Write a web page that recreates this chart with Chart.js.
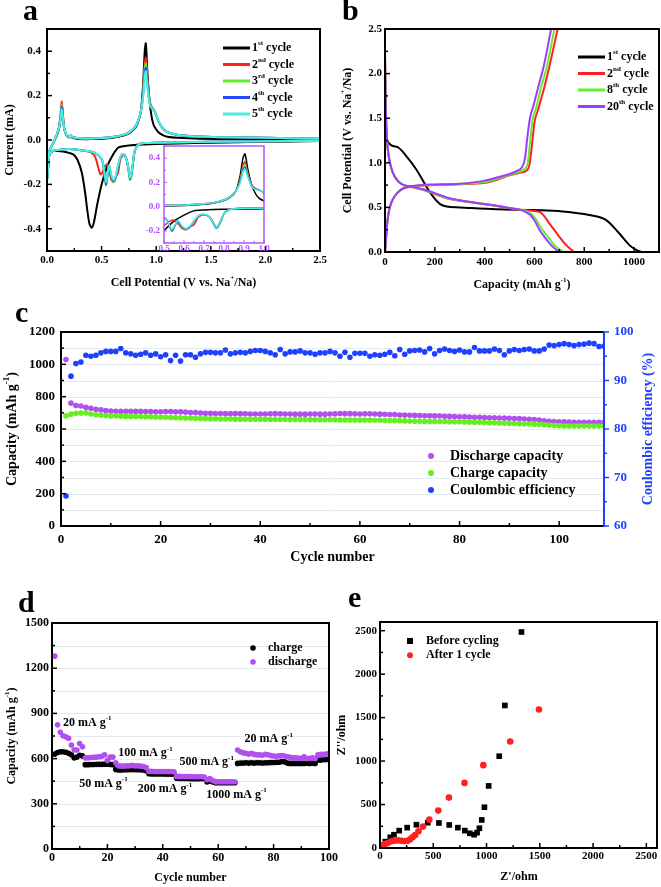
<!DOCTYPE html>
<html>
<head>
<meta charset="utf-8">
<title>Electrochemical performance</title>
<script src="https://cdn.jsdelivr.net/npm/chart.js@4.4.1/dist/chart.umd.min.js"></script>
<style>
  html, body { margin: 0; padding: 0; background: #fff; overflow: hidden; }
  body { position: relative; width: 661px; height: 887px; }
  canvas { position: absolute; }
</style>
</head>
<body>
<canvas id="chartA" width="335" height="292" style="left:0;top:0"></canvas>
<canvas id="chartInset" width="135" height="122" style="left:140px;top:136px"></canvas>
<canvas id="chartB" width="350" height="292" style="left:330px;top:0"></canvas>
<canvas id="chartC" width="661" height="270" style="left:0;top:300px"></canvas>
<canvas id="chartD" width="345" height="302" style="left:0;top:585px"></canvas>
<canvas id="chartE" width="331" height="302" style="left:330px;top:585px"></canvas>
<script>
// ---------- a: cyclic voltammetry (5 cycles) ----------
const cvLabels = ['1^{st} cycle', '2^{nd} cycle', '3^{rd} cycle', '4^{th} cycle', '5^{th} cycle'];
const cvColors = ['#000000', '#ff1f1f', '#62ee2c', '#2348ff', '#46f0dc'];
const cvCathV1 = [2.5, 2.0, 1.5, 1.2, 1.0, 0.9, 0.8, 0.7, 0.65, 0.6, 0.55, 0.5, 0.46, 0.43, 0.41, 0.39, 0.37, 0.35, 0.32, 0.28, 0.24, 0.18, 0.1, 0.05, 0.02, 0.005];
const cvCathI1 = [-0.005, -0.008, -0.012, -0.016, -0.018, -0.02, -0.022, -0.028, -0.035, -0.07, -0.12, -0.2, -0.29, -0.37, -0.395, -0.38, -0.32, -0.24, -0.15, -0.09, -0.065, -0.055, -0.05, -0.05, -0.07, -0.17];
const cvCathV2 = [2.5, 2.0, 1.5, 1.2, 1.0, 0.9, 0.85, 0.82, 0.8, 0.785, 0.77, 0.76, 0.75, 0.73, 0.71, 0.69, 0.67, 0.65, 0.63, 0.61, 0.59, 0.57, 0.55, 0.53, 0.51, 0.49, 0.47, 0.44, 0.4, 0.3, 0.2, 0.1, 0.05, 0.02, 0.005];
const cvCathI2 = [-0.004, -0.006, -0.008, -0.01, -0.012, -0.014, -0.018, -0.03, -0.055, -0.11, -0.16, -0.17, -0.14, -0.09, -0.07, -0.07, -0.09, -0.15, -0.165, -0.19, -0.18, -0.14, -0.11, -0.12, -0.145, -0.155, -0.125, -0.075, -0.055, -0.045, -0.04, -0.045, -0.05, -0.07, -0.17];
const cvCathV35 = [2.5, 2.0, 1.5, 1.2, 1.0, 0.9, 0.85, 0.82, 0.8, 0.785, 0.77, 0.76, 0.75, 0.73, 0.71, 0.69, 0.67, 0.65, 0.63, 0.61, 0.59, 0.57, 0.555, 0.54, 0.525, 0.51, 0.49, 0.45, 0.4, 0.3, 0.2, 0.1, 0.05, 0.02, 0.005];
const cvCathI3 = [-0.004, -0.006, -0.008, -0.01, -0.012, -0.014, -0.018, -0.03, -0.06, -0.12, -0.17, -0.18, -0.15, -0.09, -0.068, -0.065, -0.08, -0.12, -0.17, -0.19, -0.17, -0.12, -0.16, -0.205, -0.15, -0.1, -0.08, -0.062, -0.052, -0.045, -0.04, -0.045, -0.05, -0.07, -0.17];
const cvCathI4 = [-0.004, -0.006, -0.008, -0.01, -0.012, -0.014, -0.018, -0.03, -0.058, -0.115, -0.165, -0.175, -0.145, -0.09, -0.068, -0.065, -0.08, -0.12, -0.165, -0.185, -0.165, -0.12, -0.155, -0.2, -0.15, -0.1, -0.08, -0.062, -0.052, -0.045, -0.04, -0.045, -0.05, -0.07, -0.17];
const cvCathI5 = [-0.004, -0.006, -0.008, -0.01, -0.012, -0.014, -0.018, -0.03, -0.055, -0.11, -0.16, -0.17, -0.14, -0.09, -0.066, -0.064, -0.078, -0.115, -0.16, -0.18, -0.16, -0.115, -0.15, -0.19, -0.145, -0.1, -0.08, -0.062, -0.052, -0.045, -0.04, -0.045, -0.05, -0.07, -0.17];
const cvAnodV = [0.015, 0.03, 0.06, 0.09, 0.11, 0.125, 0.135, 0.145, 0.155, 0.17, 0.19, 0.21, 0.22, 0.23, 0.3, 0.4, 0.5, 0.6, 0.7, 0.75, 0.8, 0.83, 0.86, 0.88, 0.895, 0.905, 0.92, 0.94, 0.96, 0.975, 0.99, 1.02, 1.06, 1.1, 1.2, 1.4, 1.7, 2.0, 2.5];
const cvAnodI1 = [-0.06, -0.04, -0.01, 0.02, 0.05, 0.1, 0.16, 0.11, 0.06, 0.03, 0.015, 0.012, 0.016, 0.01, 0.005, 0.004, 0.006, 0.01, 0.02, 0.03, 0.05, 0.075, 0.13, 0.25, 0.4, 0.435, 0.3, 0.17, 0.1, 0.07, 0.055, 0.035, 0.022, 0.015, 0.01, 0.006, 0.004, 0.003, 0.002];
const cvAnodI2 = [-0.06, -0.04, -0.01, 0.025, 0.06, 0.12, 0.175, 0.12, 0.065, 0.03, 0.017, 0.015, 0.02, 0.013, 0.008, 0.007, 0.009, 0.013, 0.023, 0.033, 0.055, 0.08, 0.13, 0.22, 0.34, 0.37, 0.27, 0.175, 0.148, 0.138, 0.125, 0.085, 0.052, 0.036, 0.023, 0.016, 0.012, 0.01, 0.006];
const cvAnodI3 = [-0.06, -0.04, -0.01, 0.025, 0.055, 0.11, 0.16, 0.11, 0.06, 0.03, 0.017, 0.015, 0.02, 0.013, 0.008, 0.007, 0.009, 0.013, 0.023, 0.033, 0.055, 0.08, 0.13, 0.21, 0.32, 0.345, 0.26, 0.17, 0.145, 0.137, 0.125, 0.085, 0.052, 0.036, 0.023, 0.016, 0.012, 0.01, 0.006];
const cvAnodI4 = [-0.06, -0.04, -0.01, 0.025, 0.055, 0.105, 0.15, 0.105, 0.06, 0.03, 0.017, 0.015, 0.02, 0.013, 0.008, 0.007, 0.009, 0.013, 0.023, 0.033, 0.055, 0.08, 0.13, 0.2, 0.305, 0.325, 0.25, 0.165, 0.143, 0.136, 0.124, 0.085, 0.052, 0.036, 0.023, 0.016, 0.012, 0.01, 0.006];
const cvAnodI5 = [-0.06, -0.04, -0.01, 0.025, 0.055, 0.1, 0.14, 0.1, 0.06, 0.03, 0.017, 0.015, 0.02, 0.013, 0.008, 0.007, 0.009, 0.013, 0.023, 0.033, 0.055, 0.08, 0.13, 0.19, 0.29, 0.31, 0.24, 0.16, 0.142, 0.135, 0.124, 0.085, 0.052, 0.036, 0.023, 0.016, 0.012, 0.01, 0.006];
const aTickX = [0, 0.5, 1.0, 1.5, 2.0, 2.5];
const aTickY = [-0.4, -0.2, 0, 0.2, 0.4];
const insetTickX = [0.5, 0.6, 0.7, 0.8, 0.9, 1.0];
const insetTickY = [-0.2, 0, 0.2, 0.4];

// ---------- b: charge/discharge profiles ----------
const bLabels = ['1^{st} cycle', '2^{nd} cycle', '8^{th} cycle', '20^{th} cycle'];
const bColors = ['#000000', '#ff1f1f', '#62ee2c', '#9d3cff'];
const bDisCap1 = [0, 1, 3, 7, 47, 87, 127, 167, 193, 220, 247, 300, 447, 600, 713, 820, 887, 940, 980, 1010, 1030];
const bDisV1 = [2.28, 1.8, 1.45, 1.26, 1.18, 1.07, 0.92, 0.73, 0.62, 0.54, 0.51, 0.5, 0.48, 0.47, 0.455, 0.415, 0.36, 0.21, 0.08, 0.02, 0];
const bDisCap2 = [0, 2, 5, 10, 18, 30, 45, 65, 90, 120, 150, 200, 250, 300, 350, 400, 450, 500, 550, 580, 620, 640, 660, 680, 700, 720, 740, 760];
const bDisV2 = [2.2, 1.75, 1.42, 1.18, 1.02, 0.9, 0.82, 0.765, 0.735, 0.72, 0.7, 0.65, 0.6, 0.575, 0.555, 0.535, 0.515, 0.49, 0.47, 0.465, 0.45, 0.4, 0.32, 0.245, 0.17, 0.1, 0.045, 0];
const bDisCap8 = [0, 2, 5, 10, 18, 30, 45, 65, 90, 120, 150, 200, 250, 300, 350, 400, 450, 500, 540, 565, 590, 610, 620, 640, 660, 673, 690, 705, 720];
const bDisV8 = [2.2, 1.75, 1.42, 1.18, 1.02, 0.9, 0.82, 0.765, 0.737, 0.722, 0.703, 0.655, 0.605, 0.578, 0.557, 0.537, 0.517, 0.492, 0.475, 0.46, 0.42, 0.35, 0.3, 0.22, 0.15, 0.1, 0.05, 0.02, 0];
const bDisCap20 = [0, 2, 5, 10, 18, 30, 45, 65, 90, 120, 150, 200, 250, 300, 350, 400, 450, 500, 540, 560, 585, 605, 620, 640, 660, 673, 690, 707];
const bDisV20 = [2.25, 1.78, 1.45, 1.2, 1.03, 0.9, 0.82, 0.765, 0.74, 0.725, 0.706, 0.66, 0.61, 0.58, 0.558, 0.538, 0.518, 0.493, 0.475, 0.455, 0.41, 0.33, 0.25, 0.17, 0.1, 0.06, 0.02, 0];
const bChgCap2 = [0, 3, 8, 15, 25, 40, 60, 80, 110, 150, 200, 300, 400, 450, 500, 545, 567, 580, 590, 600, 615, 640, 660, 693];
const bChgV2 = [0, 0.1, 0.3, 0.45, 0.55, 0.63, 0.69, 0.72, 0.735, 0.745, 0.75, 0.76, 0.775, 0.81, 0.86, 0.89, 0.91, 0.98, 1.2, 1.45, 1.6, 1.85, 2.08, 2.5];
const bChgCap8 = [0, 3, 8, 15, 25, 40, 60, 80, 110, 150, 200, 300, 400, 450, 500, 540, 560, 573, 583, 592, 607, 630, 650, 680];
const bChgV8 = [0, 0.1, 0.3, 0.45, 0.55, 0.63, 0.69, 0.72, 0.737, 0.748, 0.753, 0.763, 0.785, 0.82, 0.865, 0.9, 0.93, 1.0, 1.25, 1.47, 1.62, 1.88, 2.08, 2.5];
const bChgCap20 = [0, 3, 8, 15, 25, 40, 60, 80, 110, 150, 200, 300, 400, 450, 500, 530, 550, 562, 572, 582, 597, 620, 637, 667];
const bChgV20 = [0, 0.1, 0.3, 0.45, 0.55, 0.63, 0.69, 0.72, 0.74, 0.752, 0.757, 0.766, 0.8, 0.835, 0.875, 0.91, 0.95, 1.05, 1.3, 1.5, 1.65, 1.9, 2.08, 2.5];
const bTickX = [0, 200, 400, 600, 800, 1000];
const bTickY = [0, 0.5, 1.0, 1.5, 2.0, 2.5];

// ---------- c: cycling at constant current ----------
const cDischarge = [1030, 760, 745, 742, 735, 728, 722, 718, 714, 711,
  710, 709, 710, 710, 709, 709, 708, 708, 707, 707,
  708, 708, 707, 707, 705, 702, 702, 699, 697, 697,
  696, 696, 695, 695, 696, 695, 694, 693, 693, 693,
  693, 694, 695, 694, 693, 693, 692, 692, 692, 693,
  693, 692, 692, 693, 694, 696, 695, 695, 694, 693,
  694, 694, 693, 692, 691, 690, 690, 687, 686, 685,
  684, 683, 682, 682, 681, 680, 679, 678, 677, 676,
  675, 674, 673, 672, 671, 670, 669, 668, 667, 666,
  665, 664, 662, 660, 658, 655, 651, 648, 646, 645,
  644, 643, 642, 642, 641, 641, 641, 642, 641];
const cCharge = [680, 692, 697, 699, 700, 693, 688, 685, 683, 681,
  680, 679, 678, 678, 677, 677, 676, 675, 674, 673,
  672, 671, 670, 669, 668, 667, 666, 665, 664, 663,
  663, 662, 662, 662, 661, 661, 660, 660, 660, 660,
  660, 659, 659, 659, 659, 658, 658, 658, 658, 658,
  657, 657, 657, 657, 657, 656, 656, 656, 655, 655,
  655, 655, 654, 654, 653, 653, 652, 651, 650, 649,
  648, 648, 647, 647, 646, 646, 646, 645, 645, 645,
  644, 643, 642, 641, 640, 639, 638, 637, 636, 635,
  634, 633, 632, 631, 630, 628, 626, 624, 622, 620,
  619, 619, 618, 618, 618, 618, 618, 618, 618];
const cEfficiency = [66.2, 90.9, 93.5, 93.8, 95.2, 95.0, 95.2, 95.7, 96.0, 96.0,
  96.0, 96.6, 95.7, 95.5, 95.2, 95.4, 95.7, 95.2, 95.5, 94.9,
  95.3, 94.1, 95.2, 94.0, 95.3, 95.3, 94.8, 95.5, 95.8, 95.8,
  95.7, 95.7, 96.3, 95.5, 95.7, 95.8, 95.7, 96.0, 96.2, 96.2,
  96.0, 95.7, 95.3, 96.4, 95.5, 95.9, 95.9, 96.1, 95.7, 95.7,
  95.4, 95.7, 95.7, 96.0, 95.7, 95.0, 95.8, 94.8, 95.6, 95.6,
  95.6, 95.0, 95.3, 95.2, 95.4, 95.8, 95.1, 96.4, 95.4, 96.1,
  96.2, 96.3, 95.9, 96.6, 95.5, 96.2, 96.5, 96.2, 96.0, 96.3,
  95.9, 95.9, 96.8, 96.1, 96.1, 96.1, 96.5, 96.2, 95.3, 96.1,
  96.4, 96.2, 96.4, 96.5, 96.1, 96.1, 96.5, 97.3, 97.2, 97.4,
  97.6, 97.4, 97.2, 97.4, 97.5, 97.7, 97.6, 97.0, 97.1];
const cTickX = [0, 20, 40, 60, 80, 100];
const cTickY = [0, 200, 400, 600, 800, 1000, 1200];
const cTickY2 = [60, 70, 80, 90, 100];

// ---------- d: rate capability ----------
const dDischarge = [1280, 825, 775, 752, 745, 735, 690, 658, 657, 700, 678,
  605, 605, 607, 608, 610, 612, 615, 625, 588, 610, 610,
  572, 552, 550, 550, 552, 552, 555, 552, 552, 550, 548, 540,
  515, 515, 514, 514, 514, 514, 514, 514, 514, 512,
  482, 482, 481, 481, 481, 481, 480, 480, 480, 480, 478,
  460, 468, 455, 447, 446, 446, 446, 446, 446, 446, 446,
  657, 645, 638, 635, 630, 635, 628, 625, 625, 622, 628, 625, 620, 617, 615, 618, 620,
  617, 612, 608, 605, 605, 603, 602, 612, 600, 602, 605, 600, 625, 628, 628, 630, 635];
const dCharge = [630, 640, 645, 645, 642, 635, 625, 605, 610, 622, 618,
  560, 560, 561, 561, 562, 562, 562, 563, 563, 562, 560,
  528, 525, 525, 526, 526, 527, 527, 527, 526, 526, 525, 520,
  500, 498, 498, 498, 498, 498, 497, 497, 497, 497,
  470, 468, 468, 468, 468, 467, 467, 467, 467, 466, 466,
  445, 452, 445, 440, 440, 440, 440, 440, 440, 440, 440,
  568, 570, 570, 572, 570, 572, 570, 572, 572, 570, 572, 572, 574, 574, 575, 576, 580,
  578, 570, 568, 568, 568, 568, 568, 568, 570, 568, 570, 568, 590, 590, 592, 592, 595];
const dRateLabels = ['20 mA g^{-1}', '50 mA g^{-1}', '100 mA g^{-1}', '200 mA g^{-1}', '500 mA g^{-1}', '1000 mA g^{-1}', '20 mA g^{-1}'];
const dRateAt = [[4, 836], [9.8, 431], [23.9, 635], [31, 396], [46, 575], [55.7, 358], [69.5, 728]];
const dTickX = [0, 20, 40, 60, 80, 100];
const dTickY = [0, 300, 600, 900, 1200, 1500];

// ---------- e: impedance (Nyquist) ----------
const eBeforeRe = [20, 50, 96, 131, 180, 255, 342, 448, 553, 650, 731, 796, 843, 883, 911, 933, 955, 980, 1020, 1119, 1172, 1328];
const eBeforeIm = [30, 73, 123, 153, 200, 234, 268, 291, 288, 265, 234, 200, 169, 153, 176, 227, 323, 469, 714, 1056, 1640, 2485];
const eAfterRe = [6, 28, 50, 75, 106, 137, 168, 199, 230, 261, 283, 305, 330, 361, 404, 463, 547, 647, 793, 970, 1222, 1492];
const eAfterIm = [23, 35, 46, 61, 77, 84, 88, 84, 81, 84, 100, 123, 150, 192, 246, 326, 430, 580, 749, 953, 1225, 1594];
const eTicks = [0, 500, 1000, 1500, 2000, 2500];

const FONT = '"Liberation Serif", "Times New Roman", serif';
const PURPLE = '#b24fee';
const BLUE = '#2040ff';
const INSET = '#b055ff';
Chart.defaults.font.family = FONT;
Chart.defaults.font.weight = 'bold';
Chart.defaults.color = '#000';

const pairs = (xs, ys) => xs.map((x, i) => ({ x, y: ys[i] }));
const cycleNo = n => Array.from({ length: n }, (_, i) => i + 1);
const f1 = v => Number(v).toFixed(1);

// text with ^{superscript} parts
function drawRich(ctx, text, x, y, o) {
  const size = o.size || 12;
  const sup = Math.round(size * 0.62);
  const segs = [];
  const re = /\^\{([^}]*)\}/g;
  let last = 0, m;
  while ((m = re.exec(text))) {
    if (m.index > last) segs.push({ t: text.slice(last, m.index), s: false });
    segs.push({ t: m[1], s: true });
    last = re.lastIndex;
  }
  if (last < text.length) segs.push({ t: text.slice(last), s: false });
  const font = s => `bold ${s}px ${FONT}`;
  let w = 0;
  segs.forEach(p => { ctx.font = font(p.s ? sup : size); p.w = ctx.measureText(p.t).width; w += p.w; });
  ctx.save();
  ctx.translate(x, y);
  if (o.rot) ctx.rotate(o.rot);
  let cx = o.align === 'left' ? 0 : (o.align === 'right' ? -w : -w / 2);
  ctx.fillStyle = o.color || '#000';
  ctx.textAlign = 'left';
  ctx.textBaseline = o.baseline || 'middle';
  segs.forEach(p => {
    ctx.font = font(p.s ? sup : size);
    ctx.fillText(p.t, cx, p.s ? -size * 0.38 : 0);
    cx += p.w;
  });
  ctx.restore();
}

// per-canvas decorations: frame, inward ticks, titles, legend, notes
const decorations = {};
Chart.register({
  id: 'decor',
  beforeDatasetsDraw(chart) {
    const o = decorations[chart.canvas.id];
    if (!o) return;
    const ctx = chart.ctx, a = chart.chartArea;
    ctx.save();
    if (o.fill) { ctx.fillStyle = o.fill; ctx.fillRect(a.left, a.top, a.width, a.height); }
    if (o.grid) {
      const s = chart.scales[o.grid.id];
      ctx.strokeStyle = '#e4eaf1';
      ctx.lineWidth = 1;
      for (let v = o.grid.from; v <= o.grid.to; v += o.grid.step) {
        const p = Math.round(s.getPixelForValue(v)) + 0.5;
        ctx.beginPath(); ctx.moveTo(a.left, p); ctx.lineTo(a.right, p); ctx.stroke();
      }
    }
    ctx.restore();
  },
  afterDraw(chart) {
    const o = decorations[chart.canvas.id];
    if (!o) return;
    const ctx = chart.ctx, a = chart.chartArea;
    ctx.save();
    (o.marks || []).forEach(mk => {
      const s = chart.scales[mk.id];
      const lens = mk.len || [5, 3];
      ctx.strokeStyle = mk.color || '#000';
      ctx.lineWidth = mk.width || 1.5;
      const n = Math.round((mk.to - mk.from) / mk.minor);
      for (let i = 0; i <= n; i++) {
        const v = mk.from + i * mk.minor;
        const r = v / mk.major;
        const len = Math.abs(r - Math.round(r)) < 1e-6 ? lens[0] : lens[1];
        const p = s.getPixelForValue(v);
        ctx.beginPath();
        if (s.axis === 'x') { ctx.moveTo(p, a.bottom); ctx.lineTo(p, a.bottom - len); }
        else if (s.position === 'left') { ctx.moveTo(a.left, p); ctx.lineTo(a.left + len, p); }
        else { ctx.moveTo(a.right, p); ctx.lineTo(a.right + (mk.out ? len : -len), p); }
        ctx.stroke();
      }
    });
    ctx.lineWidth = o.frameWidth || 2;
    ctx.strokeStyle = o.frame || '#000';
    ctx.strokeRect(a.left, a.top, a.width, a.height);
    if (o.rightColor) {
      ctx.strokeStyle = o.rightColor;
      ctx.beginPath(); ctx.moveTo(a.right, a.top - 1); ctx.lineTo(a.right, a.bottom + 1); ctx.stroke();
    }
    if (o.legend) {
      const L = o.legend;
      L.items.forEach((it, i) => {
        const y = L.y + i * L.dy;
        const mark = it.mark || L.mark;
        ctx.fillStyle = it.color; ctx.strokeStyle = it.color;
        if (mark === 'line') {
          ctx.lineWidth = L.lw || 3;
          ctx.beginPath(); ctx.moveTo(L.x, y); ctx.lineTo(L.x + L.len, y); ctx.stroke();
        } else if (mark === 'circle') {
          ctx.beginPath(); ctx.arc(L.x, y, L.r, 0, Math.PI * 2); ctx.fill();
        } else {
          ctx.fillRect(L.x - L.r, y - L.r, 2 * L.r, 2 * L.r);
        }
        drawRich(ctx, it.text, L.x + L.tx, y, { size: L.size, align: 'left' });
      });
    }
    (o.notes || []).forEach(t => {
      drawRich(ctx, t.text, chart.scales.x.getPixelForValue(t.at[0]), chart.scales.y.getPixelForValue(t.at[1]), t);
    });
    (o.texts || []).forEach(t => drawRich(ctx, t.text, t.x, t.y, t));
    ctx.restore();
  }
});

function axis(c) {
  const horizontal = c.position === 'bottom';
  return {
    type: 'linear',
    position: c.position,
    min: c.min,
    max: c.max,
    afterBuildTicks: s => { s.ticks = c.ticks.map(v => ({ value: v })); },
    afterFit: s => {
      if (horizontal) s.height = c.size; else s.width = c.size;
      s.paddingLeft = 0; s.paddingRight = 0; s.paddingTop = 0; s.paddingBottom = 0;
    },
    ticks: {
      callback: c.fmt || (v => v),
      font: { size: c.font, weight: 'bold', family: FONT },
      color: c.color || '#000',
      padding: c.pad,
      maxRotation: 0,
      autoSkip: false
    },
    grid: { display: false, drawTicks: false },
    border: { display: false }
  };
}

function options(padding, scales) {
  return {
    responsive: false,
    animation: false,
    events: [],
    layout: { padding: Object.assign({ left: 0, right: 0, top: 0, bottom: 0 }, padding) },
    scales,
    plugins: { legend: { display: false }, tooltip: { enabled: false } }
  };
}

function cvData(lineWidth) {
  const cycles = [
    [cvCathV1, cvCathI1, cvAnodI1],
    [cvCathV2, cvCathI2, cvAnodI2],
    [cvCathV35, cvCathI3, cvAnodI3],
    [cvCathV35, cvCathI4, cvAnodI4],
    [cvCathV35, cvCathI5, cvAnodI5]
  ];
  return cycles.map(([cv, ci, ai], k) => ({
    label: cvLabels[k],
    data: pairs(cv, ci).concat(pairs(cvAnodV, ai)),
    showLine: true,
    borderColor: cvColors[k],
    borderWidth: lineWidth,
    pointRadius: 0,
    tension: 0.25,
    order: 4 - k
  }));
}

// ---- a ----
decorations.chartA = {
  marks: [
    { id: 'x', from: 0, to: 2.5, major: 0.5, minor: 0.25 },
    { id: 'y', from: -0.5, to: 0.5, major: 0.2, minor: 0.1 }
  ],
  legend: { x: 223, y: 48, dy: 16.5, len: 27, tx: 29, size: 12, mark: 'line',
    items: cvLabels.map((t, i) => ({ text: t, color: cvColors[i] })) },
  texts: [
    { text: 'a', x: 23, y: 20, size: 30, align: 'left', baseline: 'alphabetic' },
    { text: 'Cell Potential (V vs. Na^{+}/Na)', x: 183.5, y: 283, size: 12 },
    { text: 'Current (mA)', x: 10, y: 140, size: 12, rot: -Math.PI / 2 }
  ]
};
new Chart(document.getElementById('chartA'), {
  type: 'scatter',
  data: { datasets: cvData(2) },
  options: options({ top: 29, right: 15 }, {
    x: axis({ position: 'bottom', min: 0, max: 2.5, ticks: aTickX, fmt: f1, font: 11, pad: 3, size: 41 }),
    y: axis({ position: 'left', min: -0.5, max: 0.5, ticks: aTickY, fmt: f1, font: 11, pad: 6, size: 47 })
  })
});

// ---- a inset ----
decorations.chartInset = {
  fill: '#ffffff',
  frame: INSET,
  frameWidth: 1.5,
  marks: [
    { id: 'x', from: 0.5, to: 1.0, major: 0.1, minor: 0.05, color: INSET, len: [3, 2], width: 1 },
    { id: 'y', from: -0.3, to: 0.5, major: 0.2, minor: 0.1, color: INSET, len: [3, 2], width: 1 }
  ]
};
new Chart(document.getElementById('chartInset'), {
  type: 'scatter',
  data: { datasets: cvData(1.5) },
  options: options({ top: 10, right: 11 }, {
    x: axis({ position: 'bottom', min: 0.5, max: 1.0, ticks: insetTickX, fmt: f1, font: 9, pad: 0, size: 15, color: INSET }),
    y: axis({ position: 'left', min: -0.3, max: 0.5, ticks: insetTickY, fmt: f1, font: 9, pad: 4, size: 24, color: INSET })
  })
});

// ---- b ----
const bCurves = [
  [bDisCap1, bDisV1, 0],
  [bDisCap2, bDisV2, 1], [bChgCap2, bChgV2, 1],
  [bDisCap8, bDisV8, 2], [bChgCap8, bChgV8, 2],
  [bDisCap20, bDisV20, 3], [bChgCap20, bChgV20, 3]
];
decorations.chartB = {
  marks: [
    { id: 'x', from: 0, to: 1100, major: 200, minor: 100 },
    { id: 'y', from: 0, to: 2.5, major: 0.5, minor: 0.25 }
  ],
  legend: { x: 248, y: 57, dy: 16.5, len: 27, tx: 29, size: 12, mark: 'line',
    items: bLabels.map((t, i) => ({ text: t, color: bColors[i] })) },
  texts: [
    { text: 'b', x: 12, y: 20, size: 30, align: 'left', baseline: 'alphabetic' },
    { text: 'Capacity (mAh g^{-1})', x: 192, y: 285, size: 12 },
    { text: 'Cell Potential (V vs. Na^{+}/Na)', x: 18, y: 140.5, size: 12, rot: -Math.PI / 2 }
  ]
};
new Chart(document.getElementById('chartB'), {
  type: 'scatter',
  data: {
    datasets: bCurves.map(([cap, v, k]) => ({
      label: bLabels[k],
      data: pairs(cap, v),
      showLine: true,
      borderColor: bColors[k],
      borderWidth: 2,
      pointRadius: 0,
      cubicInterpolationMode: 'monotone',
      order: 3 - k
    }))
  },
  options: options({ top: 29, right: 21 }, {
    x: axis({ position: 'bottom', min: 0, max: 1100, ticks: bTickX, font: 11, pad: 4, size: 40 }),
    y: axis({ position: 'left', min: 0, max: 2.5, ticks: bTickY, fmt: f1, font: 11, pad: 3, size: 55 })
  })
});

// ---- c ----
const cCycles = cycleNo(cDischarge.length);
decorations.chartC = {
  grid: { id: 'y', from: 100, to: 1100, step: 100 },
  rightColor: BLUE,
  marks: [
    { id: 'x', from: 0, to: 100, major: 20, minor: 10 },
    { id: 'y', from: 0, to: 1200, major: 200, minor: 100 },
    { id: 'y2', from: 60, to: 100, major: 10, minor: 5, color: BLUE, out: true }
  ],
  legend: { x: 431, y: 156, dy: 17, r: 3, tx: 19, size: 14, mark: 'circle',
    items: [
      { text: 'Discharge capacity', color: PURPLE },
      { text: 'Charge capacity', color: '#66ee22' },
      { text: 'Coulombic efficiency', color: BLUE }
    ] },
  texts: [
    { text: 'c', x: 15, y: 22, size: 30, align: 'left', baseline: 'alphabetic' },
    { text: 'Cycle number', x: 332.5, y: 257, size: 14 },
    { text: 'Capacity (mAh g^{-1})', x: 12, y: 129, size: 14, rot: -Math.PI / 2 },
    { text: 'Coulombic efficiency (%)', x: 648, y: 129, size: 14, rot: -Math.PI / 2, color: BLUE }
  ]
};
new Chart(document.getElementById('chartC'), {
  type: 'scatter',
  data: {
    datasets: [
      { label: 'Coulombic efficiency', data: pairs(cCycles, cEfficiency), yAxisID: 'y2',
        backgroundColor: BLUE, borderWidth: 0, pointRadius: 2.8, order: 0 },
      { label: 'Charge capacity', data: pairs(cCycles, cCharge), yAxisID: 'y',
        backgroundColor: '#66ee22', borderWidth: 0, pointRadius: 2.8, order: 1 },
      { label: 'Discharge capacity', data: pairs(cCycles, cDischarge), yAxisID: 'y',
        backgroundColor: PURPLE, borderWidth: 0, pointRadius: 2.8, order: 2 }
    ]
  },
  options: options({ top: 32 }, {
    x: axis({ position: 'bottom', min: 0, max: 109, ticks: cTickX, font: 13, pad: 6, size: 44 }),
    y: axis({ position: 'left', min: 0, max: 1200, ticks: cTickY, font: 13, pad: 6, size: 61 }),
    y2: axis({ position: 'right', min: 60, max: 100, ticks: cTickY2, font: 13, pad: 10, size: 57, color: BLUE })
  })
});

// ---- d ----
const dCycles = cycleNo(dDischarge.length);
decorations.chartD = {
  grid: { id: 'y', from: 150, to: 1350, step: 150 },
  marks: [
    { id: 'x', from: 0, to: 100, major: 20, minor: 10 },
    { id: 'y', from: 0, to: 1500, major: 300, minor: 150 }
  ],
  legend: { x: 253, y: 63, dy: 14, r: 2.8, tx: 15, size: 12, mark: 'circle',
    items: [{ text: 'charge', color: '#000000' }, { text: 'discharge', color: PURPLE }] },
  notes: dRateLabels.map((t, i) => ({ text: t, at: dRateAt[i], size: 12, align: 'left' })),
  texts: [
    { text: 'd', x: 18, y: 27, size: 30, align: 'left', baseline: 'alphabetic' },
    { text: 'Cycle number', x: 190.5, y: 293, size: 12 },
    { text: 'Capacity (mAh g^{-1})', x: 12, y: 151, size: 12, rot: -Math.PI / 2 }
  ]
};
new Chart(document.getElementById('chartD'), {
  type: 'scatter',
  data: {
    datasets: [
      { label: 'discharge', data: pairs(dCycles, dDischarge), backgroundColor: PURPLE,
        borderWidth: 0, pointRadius: 2.8, order: 0 },
      { label: 'charge', data: pairs(dCycles, dCharge), backgroundColor: '#000000',
        borderWidth: 0, pointRadius: 2.8, order: 1 }
    ]
  },
  options: options({ top: 38, right: 16 }, {
    x: axis({ position: 'bottom', min: 0, max: 100, ticks: dTickX, font: 12, pad: 2, size: 38 }),
    y: axis({ position: 'left', min: 0, max: 1500, ticks: dTickY, font: 12, pad: 3, size: 52 })
  })
});

// ---- e ----
decorations.chartE = {
  marks: [
    { id: 'x', from: 0, to: 2500, major: 500, minor: 250 },
    { id: 'y', from: 0, to: 2500, major: 500, minor: 250 }
  ],
  legend: { x: 80, y: 56, dy: 14.3, r: 3, tx: 16, size: 12,
    items: [
      { text: 'Before cycling', color: '#000000', mark: 'rect' },
      { text: 'After 1 cycle', color: '#ff2020', mark: 'circle' }
    ] },
  texts: [
    { text: 'e', x: 18, y: 22, size: 30, align: 'left', baseline: 'alphabetic' },
    { text: "Z'/ohm", x: 189, y: 292, size: 12 },
    { text: "Z''/ohm", x: 12, y: 150, size: 12, rot: -Math.PI / 2 }
  ]
};
new Chart(document.getElementById('chartE'), {
  type: 'scatter',
  data: {
    datasets: [
      { label: 'After 1 cycle', data: pairs(eAfterRe, eAfterIm), backgroundColor: '#ff2020',
        borderWidth: 0, pointRadius: 3.3, order: 0 },
      { label: 'Before cycling', data: pairs(eBeforeRe, eBeforeIm), backgroundColor: '#000000',
        borderWidth: 0, pointRadius: 4, pointStyle: 'rect', order: 1 }
    ]
  },
  options: options({ top: 37, right: 2 }, {
    x: axis({ position: 'bottom', min: 0, max: 2600, ticks: eTicks, font: 11, pad: 2, size: 39 }),
    y: axis({ position: 'left', min: 0, max: 2600, ticks: eTicks, font: 11, pad: 3, size: 50 })
  })
});
</script>
</body>
</html>
